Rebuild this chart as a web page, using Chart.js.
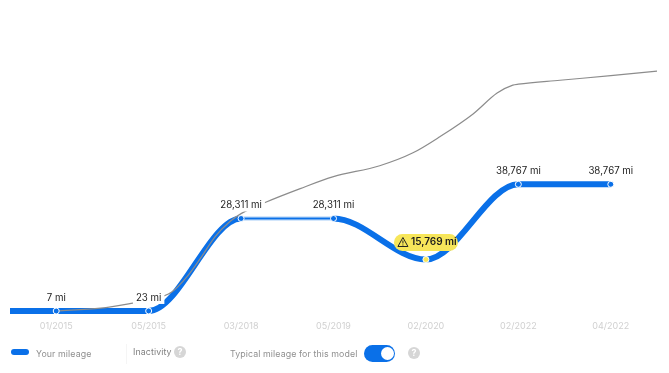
<!DOCTYPE html>
<html><head><meta charset="utf-8">
<script src="https://cdn.jsdelivr.net/npm/chart.js@4"></script>
<style>
html,body{margin:0;padding:0;background:#fff;width:669px;height:373px;overflow:hidden;font-family:Inter,sans-serif}
#all{position:absolute;left:0;top:0;width:669px;height:373px;filter:blur(0.4px)}
#wrap{position:absolute;left:0;top:0;width:669px;height:340px}
.t{position:absolute;font-size:8.8px;letter-spacing:.1px;color:#8f8f8f;white-space:nowrap;line-height:12px}
.q{position:absolute;width:12px;height:12px;border-radius:6px;background:#d6d6d6;color:#fff;font-size:9px;font-weight:700;line-height:12px;text-align:center}
</style></head><body>
<div id="all">
<div id="wrap"><canvas id="c" width="669" height="340"></canvas></div>
<div style="position:absolute;left:11px;top:349px;width:18px;height:6px;border-radius:3px;background:#0a70e8"></div>
<div class="t" style="left:36px;top:348px">Your mileage</div>
<div style="position:absolute;left:126px;top:344px;width:1px;height:20px;background:#f5f5f5"></div>
<div class="t" style="left:133px;top:346px;color:#808080">Inactivity</div>
<div class="q" style="left:174px;top:346px">?</div>
<div class="t" style="left:230px;top:348px">Typical mileage for this model</div>
<div style="position:absolute;left:364px;top:345px;width:31px;height:17px;border-radius:8.5px;background:#0a70e8"></div>
<div style="position:absolute;left:381px;top:347px;width:13px;height:13px;border-radius:7px;background:#fff"></div>
<div class="q" style="left:408px;top:347px">?</div>
</div>
<script>
const categories = ['01/2015','05/2015','03/2018','05/2019','02/2020','02/2022','04/2022'];
const mileage = [7,23,28311,28311,15769,38767,38767];
const mileageLabels = ['7 mi','23 mi','28,311 mi','28,311 mi','15,769 mi','38,767 mi','38,767 mi'];
const lineStartIndex = -0.5;
const typicalX = [0,0.48,0.83,1,1.25,1.42,1.56,1.72,1.88,2,2.26,2.64,3,3.5,3.86,4.15,4.51,4.77,4.94,5,5.45,6,6.5];
const typicalY = [7,900,2440,3350,5800,10650,16100,22800,27400,29800,33200,37450,41100,44450,48400,53300,60300,66700,69100,69400,70600,72000,73400];
const inactivityFrom = 2, inactivityTo = 3, warningIndex = 4;

const BLUE = '#0a70e8';
const mainPts = [{x:lineStartIndex,y:mileage[0]}].concat(mileage.map((v,i)=>({x:i,y:v})));
const markerPts = mileage.map((v,i)=>({x:i,y:v}));
const haloPts = [inactivityFrom,inactivityTo].map(i=>({x:i,y:mileage[i]}));
const typicalPts = typicalX.map((x,i)=>({x,y:typicalY[i]}));

const labelsPlugin = {
  id:'labels',
  afterDatasetsDraw(chart){
    const {ctx,scales:{x,y}} = chart;
    ctx.save();
    ctx.font = '9.7px Inter, sans-serif';
    ctx.textAlign='center'; ctx.textBaseline='middle';
    mileage.forEach((v,i)=>{
      const px=x.getPixelForValue(i), py=y.getPixelForValue(v);
      if(i===warningIndex){
        const cy=py-17, w=64, h=17;
        ctx.fillStyle='#f7e65a';
        ctx.beginPath(); ctx.roundRect(px-w/2,cy-h/2,w,h,8.5); ctx.fill();
        const tx=px-23;
        ctx.strokeStyle='#222'; ctx.lineWidth=1; ctx.lineJoin='round';
        ctx.beginPath(); ctx.moveTo(tx,cy-5); ctx.lineTo(tx+5,cy+4); ctx.lineTo(tx-5,cy+4); ctx.closePath(); ctx.stroke();
        ctx.beginPath(); ctx.moveTo(tx,cy-2); ctx.lineTo(tx,cy+1); ctx.moveTo(tx,cy+2); ctx.lineTo(tx,cy+3); ctx.stroke();
        ctx.fillStyle='#1c1c1c'; ctx.font='600 10px Inter, sans-serif'; ctx.textAlign='left';
        ctx.fillText(mileageLabels[i],px-15,cy);
        ctx.font='9.7px Inter, sans-serif'; ctx.textAlign='center';
        return;
      }
      const cy=py-13, t=mileageLabels[i], w=ctx.measureText(t).width+6;
      ctx.fillStyle='#fff'; ctx.fillRect(px-w/2,cy-6,w,12);
      ctx.fillStyle='#222'; ctx.fillText(t,px,cy);
    });
    ctx.restore();
  }
};

new Chart(document.getElementById('c'),{
  type:'scatter',
  data:{datasets:[
    {label:'markers',data:markerPts,showLine:false,order:0,
      pointRadius:3,pointHoverRadius:3,borderWidth:1,
      pointBorderColor:'#fff',
      pointBackgroundColor:c=>c.dataIndex===warningIndex?'#f7e65a':BLUE},
    {label:'Typical mileage for this model',data:typicalPts,showLine:true,order:1,pointRadius:0,
      borderColor:'#8c8c8c',borderWidth:1.2,cubicInterpolationMode:'monotone'},
    {label:'Your mileage',data:mainPts,showLine:true,order:2,pointRadius:0,
      borderColor:BLUE,borderWidth:6,cubicInterpolationMode:'monotone',
      segment:{borderWidth:c=>c.p0.parsed.x===inactivityFrom?2:6}},
    {label:'Inactivity',data:haloPts,showLine:true,order:3,pointRadius:0,borderColor:'#d3e6fb',borderWidth:5}
  ]},
  options:{
    responsive:false,animation:false,
    layout:{padding:{left:10,right:12,top:0,bottom:0}},
    plugins:{legend:{display:false},tooltip:{enabled:false}},
    scales:{
      x:{type:'linear',min:-0.5,max:6.5,
        grid:{display:false,drawTicks:false},border:{display:false},
        afterBuildTicks(s){s.ticks=categories.map((_,i)=>({value:i}));},
        afterFit(s){s.height=22;},
        ticks:{autoSkip:false,maxRotation:0,padding:3,
          color:'#d0d0d0',font:{family:'Inter, sans-serif',size:9},
          callback:v=>categories[v]||''}},
      y:{display:false,min:-2131,max:93925}
    }
  },
  plugins:[labelsPlugin]
});
</script>
</body></html>
